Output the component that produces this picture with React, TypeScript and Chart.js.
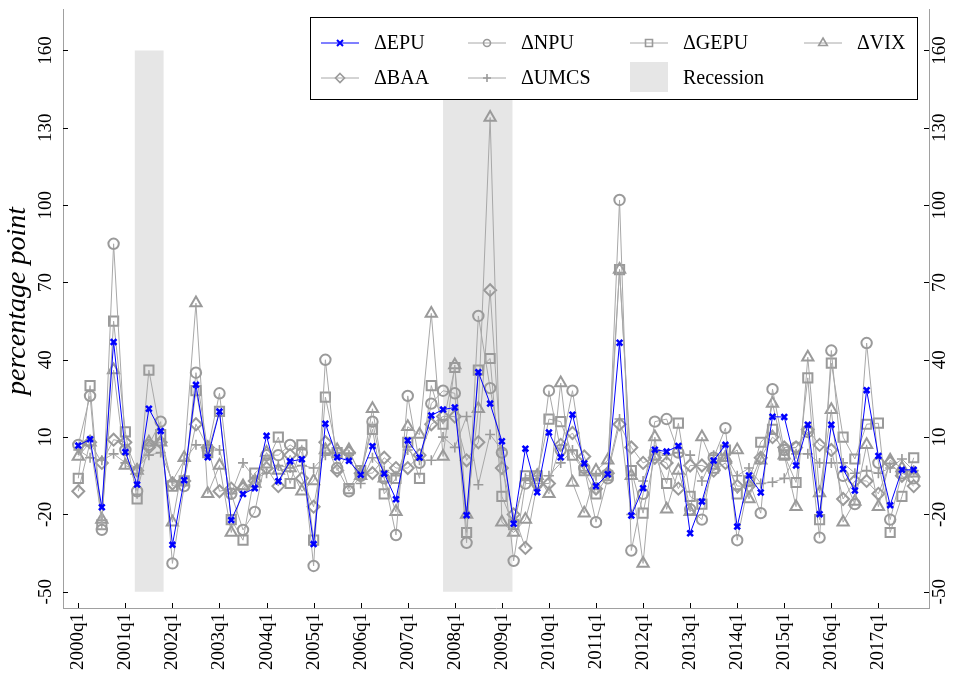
import React, { useEffect, useRef } from 'react';
import { Chart, registerables } from 'chart.js';

Chart.register(...registerables);

// Quarterly changes, 2000q1 .. 2017q4 (index 0 .. 71)
const epu = [
  6.7, 9.2, -17.2, 46.9, 4.2, -8.4, 21.0, 12.4, -31.8, -6.7, 30.3, 2.2,
  19.9, -22.2, -12.1, -9.8, 10.5, -7.1, 0.6, 1.4, -31.5, 15.2, 2.2, 0.8,
  -4.6, 6.5, -4.2, -14.1, 8.7, 2.1, 18.4, 20.7, 21.5, -20.3, 35.2, 23.0,
  8.4, -23.6, 5.5, -11.4, 11.8, 2.2, 18.7, -0.2, -9.0, -4.4, 46.6, -20.4,
  -9.8, 5.1, 4.4, 6.6, -27.3, -15.0, 0.9, 7.0, -24.7, -4.9, -11.5, 17.9,
  17.8, -1.0, 14.8, -19.9, 14.8, -2.4, -10.7, 28.2, 2.7, -16.4, -2.7, -2.7,
];
const npu = [
  7, 26, -26, 85, 5, -11, 7, 16, -39, -9, 35, 5,
  27, -12, -26, -19, 3, 3, 7, 4, -40, 40, -2, -11,
  -5, 16, -6, -28, 26, 0, 23, 28, 27, -31, 57, 29,
  4, -38, -8, -8, 28, 5, 28, -2, -23, -6, 102, -34,
  -12, 16, 17, 4, -18, -22, 2, 13.5, -30, -7, -19.5, 28.6,
  5, 6, 12, -29, 43.6, -5, -16, 46.5, 0, -22, -4, -6,
];
const gepu = [
  -6, 30, -24, 55, 12, -14, 36, 11, -9, -7, 28, 4,
  20, -22, -30, -4, 0, 10, -8, 7, -30, 25.5, 4, -10,
  -3, 13, -12, -6, 8, -6, 30, 15, 37, -27, 36, 40.5,
  -13, -24, -5, -5, 17, 16, 3, -3, -12, -5, 75, -3,
  -19.5, 3, -8, 15.4, -13, -16, -2, 5, -12, -7, 8, 13,
  3, -7.6, 33, -22, 38.7, 10, 1.5, 15, 15.4, -27, -13, 2,
];
const vix = [
  2.5, 8, -22, 36, -1, -3, 8, 8, -23, 2, 62, -12,
  -1, -27, -9, -8, 4, -3, -2, -11, -7, 5, 5, 5,
  -5, 21, -6, -19, 14, 11, 58, 2.5, 38, -20, 21, 134,
  -23, -27, -22, -5, -12, 31, -7.6, -19.5, -3, 1, 75, -5,
  -39, 10, -18, -3, -19, 10, -1, 2, 5, -14, 1, 23,
  3, -17, 41, -11.7, 20.6, -23, -15, 7, -17, 1, -2, -4,
];
const baa = [
  -11, 8, 0, 9, 8, -3, 6, 8, -8, -7, 15, 6,
  -11, -10, -10, -7, -2, -9, 3, -6, -17, 8, -3, 4,
  -4, -4, 2, -2, -2, 3, 15, 18, 18, 1, 8, 67,
  -2, -20, -33, -8, -8, 7, 11.6, 2.5, -10, -4, 15, 6,
  0, 2, 0, -10, -1, -1, -3, 0, -9, -9, 2, 10,
  6, 6, 13, 7, 5, -14, -7, -7, -12, 0, -5, -9,
];
const umcs = [
  5, 2, 1, 3.5, 0, -2, 3, 4, -7, 1, 7, 7,
  5, -12, 0, -6, -4, -1, -2, -1, -2, 3, 4, 3,
  -8, 2, -3, -5, 5, 1, 1, 10, 6, 18, -8.5, 11,
  5, -22, -6, -5, -5, 0, 5, -3, -5, -3, 17, -20,
  -7, 5, 3, 4, 3, -7, 3, 3, -5, -2, -8, -7.5,
  -6, 3.5, 3.5, 0, 0, 0, -4, -3, -4, -2, 1.5, -3,
];

// One label every fourth quarter
const xTickLabels = [
  '2000q1', '2001q1', '2002q1', '2003q1', '2004q1', '2005q1',
  '2006q1', '2007q1', '2008q1', '2009q1', '2010q1', '2011q1',
  '2012q1', '2013q1', '2014q1', '2015q1', '2016q1', '2017q1',
];
const yTickValues = [-50, -20, 10, 40, 70, 100, 130, 160];
const yTitle = 'percentage point';

// Recession periods, in quarter index units
const recessionStart = [4.8, 31.0];
const recessionEnd = [7.25, 36.9];
const recessionLow = -50;
const recessionHigh = 160;

const SERIF = "'Liberation Serif', 'Times New Roman', serif";
const GRAY_LINE = '#a8a8a8';
const GRAY_MARK = '#9a9a9a';
const BLUE = '#0000ff';

const toPoints = (arr: number[]) => arr.map((v, i) => ({ x: i, y: v }));

type SeriesDef = {
  label: string;
  data: number[];
  style: string;
  radius: number;
  lw: number;
  line: string;
  mark: string;
  legendRadius: number;
};

const series: SeriesDef[] = [
  { label: '\u0394EPU', data: epu, style: 'crossRot', radius: 4, lw: 2.6, line: BLUE, mark: BLUE, legendRadius: 3 },
  { label: '\u0394NPU', data: npu, style: 'circle', radius: 5.2, lw: 2, line: GRAY_LINE, mark: GRAY_MARK, legendRadius: 3.5 },
  { label: '\u0394GEPU', data: gepu, style: 'rect', radius: 6.5, lw: 2, line: GRAY_LINE, mark: GRAY_MARK, legendRadius: 3.5 },
  { label: '\u0394VIX', data: vix, style: 'triangle', radius: 6.5, lw: 2, line: GRAY_LINE, mark: GRAY_MARK, legendRadius: 5 },
  { label: '\u0394BAA', data: baa, style: 'rectRot', radius: 6, lw: 2, line: GRAY_LINE, mark: GRAY_MARK, legendRadius: 4.5 },
  { label: '\u0394UMCS', data: umcs, style: 'cross', radius: 5, lw: 1.6, line: GRAY_LINE, mark: GRAY_MARK, legendRadius: 4 },
];

function drawMarker(ctx: CanvasRenderingContext2D, style: string, x: number, y: number, r: number) {
  ctx.beginPath();
  if (style === 'circle') {
    ctx.arc(x, y, r, 0, Math.PI * 2);
  } else if (style === 'rect') {
    ctx.rect(x - r, y - r, 2 * r, 2 * r);
  } else if (style === 'triangle') {
    ctx.moveTo(x, y - r);
    ctx.lineTo(x + r * 0.866, y + r * 0.5);
    ctx.lineTo(x - r * 0.866, y + r * 0.5);
    ctx.closePath();
  } else if (style === 'rectRot') {
    ctx.moveTo(x, y - r);
    ctx.lineTo(x + r, y);
    ctx.lineTo(x, y + r);
    ctx.lineTo(x - r, y);
    ctx.closePath();
  } else if (style === 'cross') {
    ctx.moveTo(x - r, y);
    ctx.lineTo(x + r, y);
    ctx.moveTo(x, y - r);
    ctx.lineTo(x, y + r);
  } else if (style === 'crossRot') {
    ctx.moveTo(x - r, y - r);
    ctx.lineTo(x + r, y + r);
    ctx.moveTo(x - r, y + r);
    ctx.lineTo(x + r, y - r);
  }
  ctx.stroke();
}

// Grey bands for recessions, behind the lines
const recessionPlugin = {
  id: 'recessionBands',
  beforeDatasetsDraw(chart: any) {
    const { ctx, scales } = chart;
    const xs = scales.x;
    const ys = scales.y;
    ctx.save();
    ctx.fillStyle = '#e6e6e6';
    recessionStart.forEach((s, i) => {
      const x0 = xs.getPixelForValue(s);
      const x1 = xs.getPixelForValue(recessionEnd[i]);
      const y0 = ys.getPixelForValue(recessionHigh);
      const y1 = ys.getPixelForValue(recessionLow);
      ctx.fillRect(x0, y0, x1 - x0, y1 - y0);
    });
    ctx.restore();
  },
};

// Short inward tick marks on the left, right and bottom axes, plus the y title
const axisDecorPlugin = {
  id: 'axisDecor',
  afterDatasetsDraw(chart: any) {
    const { ctx, chartArea, scales } = chart;
    const len = 5;
    ctx.save();
    ctx.strokeStyle = '#000';
    ctx.lineWidth = 1;
    ctx.beginPath();
    yTickValues.forEach((v) => {
      const y = Math.round(scales.y.getPixelForValue(v)) + 0.5;
      ctx.moveTo(chartArea.left, y);
      ctx.lineTo(chartArea.left + len, y);
      ctx.moveTo(chartArea.right, y);
      ctx.lineTo(chartArea.right - len, y);
    });
    xTickLabels.forEach((_, i) => {
      const x = Math.round(scales.x.getPixelForValue(i * 4)) + 0.5;
      ctx.moveTo(x, chartArea.bottom);
      ctx.lineTo(x, chartArea.bottom - len);
    });
    ctx.stroke();

    // rotated axis title
    ctx.translate(18, 301);
    ctx.rotate(-Math.PI / 2);
    ctx.font = `italic 28px ${SERIF}`;
    ctx.fillStyle = '#000';
    ctx.textAlign = 'center';
    ctx.textBaseline = 'middle';
    ctx.fillText(yTitle, 0, 0);
    ctx.restore();
  },
};

// Boxed legend in four columns
const boxLegendPlugin = {
  id: 'boxLegend',
  afterDatasetsDraw(chart: any) {
    const ctx: CanvasRenderingContext2D = chart.ctx;
    const box = { x: 310.5, y: 17.5, w: 607, h: 82 };
    const cols = [321, 468, 630, 804];
    const rows = [43, 78];
    const sample = 38;
    const textGap = 53;
    ctx.save();
    ctx.fillStyle = '#ffffff';
    ctx.fillRect(box.x, box.y, box.w, box.h);
    ctx.strokeStyle = '#000';
    ctx.lineWidth = 1;
    ctx.strokeRect(box.x, box.y, box.w, box.h);
    ctx.font = `20px ${SERIF}`;
    ctx.textBaseline = 'middle';
    ctx.textAlign = 'left';
    series.forEach((s, i) => {
      const cx = cols[i % 4];
      const cy = rows[Math.floor(i / 4)];
      ctx.strokeStyle = s.line;
      ctx.lineWidth = 1;
      ctx.beginPath();
      ctx.moveTo(cx, cy);
      ctx.lineTo(cx + sample, cy);
      ctx.stroke();
      ctx.strokeStyle = s.mark;
      ctx.lineWidth = s.style === 'crossRot' ? 2 : 1.6;
      drawMarker(ctx, s.style, cx + sample / 2, cy, s.legendRadius);
      ctx.fillStyle = '#000';
      ctx.fillText(s.label, cx + textGap, cy + 1);
    });
    // recession swatch
    ctx.fillStyle = '#e6e6e6';
    ctx.fillRect(cols[2], 62, sample, 30);
    ctx.fillStyle = '#000';
    ctx.fillText('Recession', cols[2] + textGap, rows[1] + 1);
    ctx.restore();
  },
};

const noEdgePadding = (scale: any) => {
  scale.paddingTop = 0;
  scale.paddingBottom = 0;
  scale.paddingLeft = 0;
  scale.paddingRight = 0;
};

export default function App() {
  const canvasRef = useRef<HTMLCanvasElement | null>(null);

  useEffect(() => {
    if (!canvasRef.current) return;
    const tickFont = { family: SERIF, size: 19 };
    const yCommon = {
      type: 'linear' as const,
      min: -56.3,
      max: 176.1,
      grid: { display: false, drawTicks: false },
      border: { display: true, color: '#a0a0a0', width: 1 },
      afterBuildTicks: (scale: any) => {
        scale.ticks = yTickValues.map((v) => ({ value: v }));
      },
    };

    const chart = new Chart(canvasRef.current, {
      type: 'line',
      data: {
        datasets: series.map((s) => ({
          label: s.label,
          data: toPoints(s.data),
          borderColor: s.line,
          borderWidth: 1,
          pointStyle: s.style as any,
          pointRadius: s.radius,
          pointBorderWidth: s.lw,
          pointBorderColor: s.mark,
          pointBackgroundColor: 'rgba(0,0,0,0)',
          fill: false,
          tension: 0,
        })),
      },
      options: {
        animation: false,
        responsive: true,
        maintainAspectRatio: false,
        events: [],
        layout: { padding: { top: 9, left: 0, right: 0, bottom: 0 } },
        plugins: {
          legend: { display: false },
          tooltip: { enabled: false },
        },
        scales: {
          x: {
            type: 'linear',
            min: -1.3,
            max: 72.3,
            grid: { display: false, drawTicks: false },
            border: { display: true, color: '#a0a0a0', width: 1 },
            afterBuildTicks: (scale: any) => {
              scale.ticks = xTickLabels.map((_, i) => ({ value: i * 4 }));
            },
            afterFit: (scale: any) => {
              scale.height = 69;
              noEdgePadding(scale);
            },
            ticks: {
              autoSkip: false,
              minRotation: 90,
              maxRotation: 90,
              padding: 5,
              color: '#000',
              font: tickFont,
              callback: (v: any) => xTickLabels[Math.round(Number(v) / 4)] ?? '',
            },
          },
          y: {
            ...yCommon,
            position: 'left',
            afterFit: (scale: any) => {
              scale.width = 63;
              noEdgePadding(scale);
            },
            ticks: {
              minRotation: 90,
              maxRotation: 90,
              crossAlign: 'center',
              padding: 3,
              color: '#000',
              font: tickFont,
              callback: (v: any) => String(v),
            },
          },
          y2: {
            ...yCommon,
            position: 'right',
            afterFit: (scale: any) => {
              scale.width = 27;
              noEdgePadding(scale);
            },
            ticks: {
              minRotation: 90,
              maxRotation: 90,
              crossAlign: 'center',
              padding: -3,
              color: '#000',
              font: tickFont,
              callback: (v: any) => String(v),
            },
          },
        },
      },
      plugins: [recessionPlugin, axisDecorPlugin, boxLegendPlugin],
    } as any);

    return () => chart.destroy();
  }, []);

  return (
    <div style={{ position: 'absolute', left: 0, top: 0, width: 956, height: 677, background: '#fff' }}>
      <canvas ref={canvasRef} />
    </div>
  );
}
